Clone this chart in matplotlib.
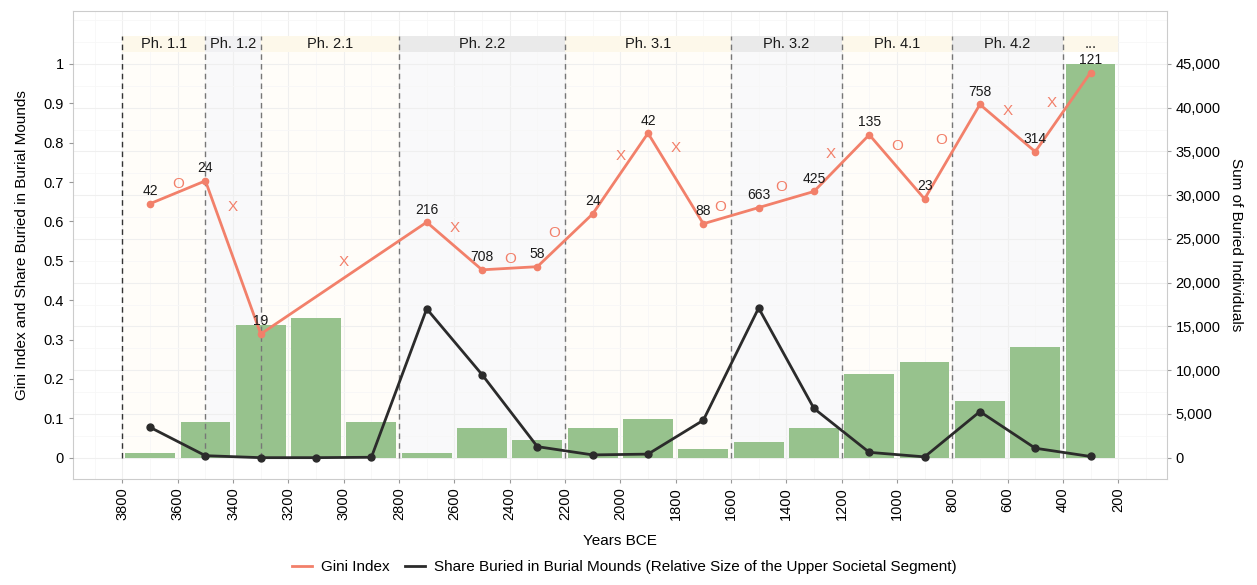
import numpy as np
import matplotlib
matplotlib.use("Agg")
from matplotlib import pyplot as plt
from matplotlib.lines import Line2D
from matplotlib.ticker import FuncFormatter, MultipleLocator

plt.rcParams["font.family"] = ["Liberation Sans", "DejaVu Sans"]

# 200-year bins (centre year)
years = [3700, 3500, 3300, 3100, 2900, 2700, 2500, 2300, 2100,
         1900, 1700, 1500, 1300, 1100, 900, 700, 500, 300]
buried = [550, 4100, 15200, 16000, 4100, 570, 3400, 2050, 3400,
          4450, 950, 1750, 3350, 9550, 10900, 6450, 12600, 45000]
share = [0.077, 0.005, 0.0, 0.0, 0.001, 0.378, 0.211, 0.028, 0.007,
         0.009, 0.095, 0.380, 0.125, 0.0135, 0.002, 0.117, 0.024, 0.003]

# Gini index and sample sizes
gini_years = [3700, 3500, 3300, 2700, 2500, 2300, 2100, 1900,
              1700, 1500, 1300, 1100, 900, 700, 500, 300]
gini = [0.645, 0.703, 0.314, 0.598, 0.477, 0.485, 0.619, 0.824,
        0.594, 0.635, 0.676, 0.820, 0.657, 0.897, 0.777, 0.978]
gini_n = ["42", "24", "19", "216", "708", "58", "24", "42",
          "88", "663", "425", "135", "23", "758", "314", "121"]

# change markers between consecutive gini values
change_years = [3600, 3400, 3000, 2600, 2400, 2240, 2000, 1800,
                1640, 1420, 1240, 1000, 840, 600, 440]
change_y = [0.695, 0.637, 0.497, 0.584, 0.505, 0.571, 0.766, 0.787,
            0.637, 0.688, 0.772, 0.792, 0.807, 0.881, 0.901]
change_sym = ["O", "X", "X", "X", "O", "O", "X", "X",
              "O", "O", "X", "O", "O", "X", "X"]

# phases
phase_edges = [3800, 3500, 3300, 2800, 2200, 1600, 1200, 800, 400, 200]
phase_names = ["Ph. 1.1", "Ph. 1.2", "Ph. 2.1", "Ph. 2.2", "Ph. 3.1",
               "Ph. 3.2", "Ph. 4.1", "Ph. 4.2", "..."]

RED = "#F2806A"
GREEN = "#97C28D"
DARK = "#2B2B2B"
SCALE = 45000
ymin, ymax = -0.053, 1.134

fig = plt.figure(figsize=(12.57, 5.85), dpi=100)
ax2 = fig.add_axes([0.0578, 0.182, 0.8703, 0.799])
ax = ax2.twinx()
ax.set_zorder(ax2.get_zorder() + 1)
ax.patch.set_visible(False)

# background shading + grid + bars on the bottom (right-axis) layer
for i in range(len(phase_names) - 1):
    lo, hi = phase_edges[i], phase_edges[i + 1]
    bg = "#FFFDF9" if i % 2 == 0 else "#F9F9FA"
    ax2.axvspan(hi, lo, ymin=(0 - ymin) / (ymax - ymin),
                ymax=(1.03 - ymin) / (ymax - ymin), color=bg, zorder=0.1, lw=0)

ax2.set_axisbelow(True)
ax2.bar(years, buried, width=180, color=GREEN, zorder=2, lw=0)
ax2.set_ylim(ymin * SCALE, ymax * SCALE)
ax2.set_xlim(3980, 25)
ax2.xaxis.set_major_locator(MultipleLocator(200))
ax2.xaxis.set_minor_locator(MultipleLocator(100))
ax2.yaxis.set_major_locator(MultipleLocator(5000))
ax2.yaxis.set_minor_locator(MultipleLocator(2500))
ax2.grid(which="major", color="#EFEFEF", lw=0.8)
ax2.grid(which="minor", color="#F7F7F7", lw=0.6)
ax2.yaxis.tick_right()
ax2.yaxis.set_label_position("right")
ax2.set_yticks(np.arange(0, 45001, 5000))
ax2.yaxis.set_major_formatter(FuncFormatter(lambda v, p: f"{int(v):,}"))
ax2.set_ylabel("Sum of Buried Individuals", rotation=270, labelpad=16, fontsize=11)
ax2.set_xlabel("Years BCE", fontsize=11, labelpad=10)
ax2.set_xticks(np.arange(3800, 199, -200))
ax2.tick_params(axis="x", rotation=90, labelsize=10.5, length=3, color="#999999",
                which="major")
ax2.tick_params(axis="y", labelsize=10.5, length=3, color="#999999")
ax2.tick_params(which="minor", length=0)
for s in ax2.spines.values():
    s.set_color("#CCCCCC")

# top (left-axis) layer
ax.yaxis.tick_left()
ax.yaxis.set_label_position("left")
ax.set_ylim(ymin, ymax)
ax.set_yticks(np.arange(0, 1.01, 0.1))
ax.yaxis.set_major_formatter(FuncFormatter(lambda v, p: f"{v:.1f}".rstrip("0").rstrip(".") if v else "0"))
ax.set_ylabel("Gini Index and Share Buried in Burial Mounds", fontsize=11, labelpad=10)
ax.tick_params(axis="y", labelsize=10.5, length=3, color="#999999")
for s in ax.spines.values():
    s.set_visible(False)

# header bands and phase boundaries
for i, name in enumerate(phase_names):
    lo, hi = phase_edges[i], phase_edges[i + 1]
    if i == len(phase_names) - 1:
        hc = "#FDF8EA"
    elif i == 1:
        hc = "#F1F1F3"
    else:
        hc = "#FDF8EA" if i % 2 == 0 else "#EAEAEA"
    ax.fill_between([hi, lo], 1.031, 1.071, color=hc, lw=0, zorder=1)
    ax.text((lo + hi) / 2, 1.051, name, ha="center", va="center", fontsize=10.5,
            color="#1A1A1A", zorder=5)
for k, e in enumerate(phase_edges[:-1]):
    ax.plot([e, e], [0, 1.071], ls=(0, (4, 3)), lw=1.0,
            color="#333333" if k == 0 else "#777777", zorder=3)

# lines
ax.plot(years, share, color=DARK, lw=2, marker="o", ms=5, zorder=6)
ax.plot(gini_years, gini, color=RED, lw=2, marker="o", ms=4.5, zorder=7)
for x, y, t in zip(gini_years, gini, gini_n):
    ax.annotate(t, (x, y), xytext=(0, 4), textcoords="offset points",
                ha="center", va="bottom", fontsize=10, color="#1A1A1A", zorder=8)
for x, y, t in zip(change_years, change_y, change_sym):
    ax.text(x, y, t, ha="center", va="center", fontsize=11, color=RED, zorder=8)

handles = [Line2D([], [], color=RED, lw=2),
           Line2D([], [], color=DARK, lw=2)]
fig.legend(handles, ["Gini Index",
                     "Share Buried in Burial Mounds (Relative Size of the Upper Societal Segment)"],
           loc="lower center", bbox_to_anchor=(0.497, -0.005), ncol=2, frameon=False,
           fontsize=11, handlelength=1.3, columnspacing=1.0, handletextpad=0.6)

fig.savefig("out.png", dpi=100)
